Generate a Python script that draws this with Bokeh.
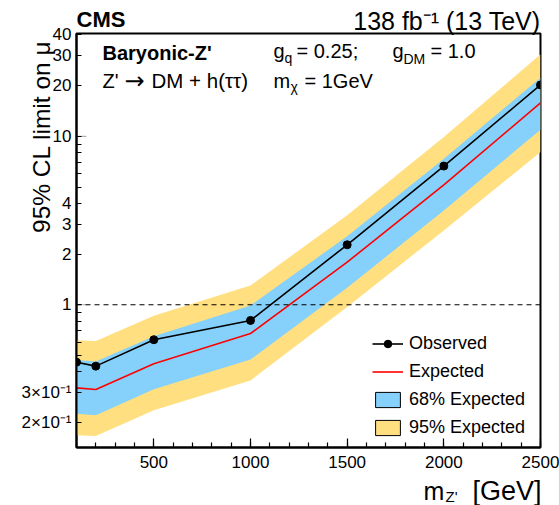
import math
from bokeh.plotting import figure
from bokeh.layouts import column, row
from bokeh.models import (Range1d, FixedTicker, Span, Label, Legend, LegendItem,
                          BoxAnnotation)
from bokeh.embed import file_html
from bokeh.resources import INLINE

# ---- data ----
mass = [100, 200, 500, 1000, 1500, 2000, 2500]
observed = [0.456, 0.432, 0.62, 0.807, 2.27, 6.66, 20.2]
expected = [0.321, 0.314, 0.446, 0.675, 1.79, 5.15, 15.8]
exp_68_low = [0.225, 0.221, 0.315, 0.473, 1.26, 3.63, 10.95]
exp_68_high = [0.47, 0.46, 0.65, 0.99, 2.55, 7.37, 22.3]
exp_95_low = [0.168, 0.166, 0.236, 0.355, 0.97, 2.76, 8.07]
exp_95_high = [0.615, 0.61, 0.86, 1.30, 3.40, 9.9, 30.7]

x_ticks = [500, 1000, 1500, 2000, 2500]
x_minor = list(range(100, 2600, 100))
y_ticks = [0.2, 0.3, 1, 2, 3, 4, 10, 20, 30, 40]
y_tick_labels = ["2×10⁻¹", "3×10⁻¹", "1", "2", "3", "4", "10", "20", "30", "40"]
y_minor = [0.4, 0.5, 0.6, 0.7, 0.8, 0.9, 5, 6, 7, 8, 9]

FONT = "Liberation Sans"
W, H = 559, 505
FL, FR, FT, FB = 76, 540, 33, 447  # frame edges in canvas px
SHIFT = 7  # compensation for the overlay's vertical offset
HO = H + 30  # overlay height (extends past the window bottom)

p = figure(width=W, height=H, y_axis_type="log",
           x_range=Range1d(100, 2500), y_range=Range1d(0.142, 40.8),
           output_backend="svg", toolbar_location=None,
           min_border_left=FL, min_border_right=W - FR,
           min_border_top=FT, min_border_bottom=H - FB)
p.xgrid.visible = False
p.ygrid.visible = False
p.outline_line_color = "black"
p.outline_line_width = 2
p.background_fill_color = "white"
p.border_fill_color = "white"

yellow = "#FFDF7F"
blue = "#85D1FB"

# legend swatches (zero-size, hidden beneath the bands)
r_95 = p.quad(left=mass[:1], right=mass[:1], top=expected[:1], bottom=expected[:1],
              fill_color=yellow, line_color="black", line_width=1)
r_68 = p.quad(left=mass[:1], right=mass[:1], top=expected[:1], bottom=expected[:1],
              fill_color=blue, line_color="black", line_width=1)

# bands
p.varea(x=mass, y1=exp_95_low, y2=exp_95_high, fill_color=yellow)
p.varea(x=mass, y1=exp_68_low, y2=exp_68_high, fill_color=blue)

p.add_layout(Span(location=1, dimension="width", line_color="black",
                  line_width=1.2, line_dash="5 4"))

r_exp = p.line(mass, expected, line_color="red", line_width=1.6)
r_obs = p.line(mass, observed, line_color="black", line_width=1.6)
r_obs_pts = p.scatter(mass, observed, size=8, fill_color="black", line_color="black")

legend = Legend(items=[
    LegendItem(label="Observed", renderers=[r_obs, r_obs_pts]),
    LegendItem(label="Expected", renderers=[r_exp]),
    LegendItem(label="68% Expected", renderers=[r_68]),
    LegendItem(label="95% Expected", renderers=[r_95]),
], location=(296, 9), padding=0, margin=0, spacing=7,
    glyph_width=31, glyph_height=19, label_height=19, label_standoff=6,
    label_text_font_size="18px", label_text_font=FONT, label_text_color="black",
    background_fill_alpha=0, border_line_alpha=0)
p.add_layout(legend)

# axes
xa = p.xaxis[0]
xa.ticker = FixedTicker(ticks=x_ticks, minor_ticks=x_minor)
xa.major_tick_in = 9
xa.major_tick_out = 0
xa.minor_tick_in = 5
xa.minor_tick_out = 0
xa.axis_line_width = 2
xa.major_tick_line_width = 1.2
xa.minor_tick_line_width = 1.2
xa.major_label_text_font = FONT
xa.major_label_text_font_size = "17px"
xa.major_label_text_color = "black"
xa.major_label_standoff = 8

ya = p.yaxis[0]
ya.ticker = FixedTicker(ticks=y_ticks, minor_ticks=y_minor)
ya.major_label_overrides = {t: s for t, s in zip(y_ticks, y_tick_labels)}
ya.major_tick_in = 5
ya.major_tick_out = 0
ya.minor_tick_in = 5
ya.minor_tick_out = 0
ya.axis_line_width = 2
ya.major_tick_line_width = 1.2
ya.minor_tick_line_width = 1.2
ya.major_label_text_font = FONT
ya.major_label_text_font_size = "17px"
ya.major_label_text_color = "black"
ya.major_label_standoff = 5

# longer ticks at decades (1 and 10)
for dec in (1, 10):
    p.add_layout(BoxAnnotation(left=0, right=10, left_units="screen", right_units="screen",
                               top=dec, bottom=dec, fill_alpha=0,
                               line_color="black", line_width=1.2))

# transparent overlay figure for texts (covers the whole canvas, no clipping at frame)
ov = figure(width=W, height=HO, x_range=Range1d(0, W), y_range=Range1d(0, HO),
            x_axis_type=None, y_axis_type=None, min_border=0,
            toolbar_location=None, output_backend="svg",
            outline_line_color=None)
ov.background_fill_alpha = 0
ov.border_fill_alpha = 0


def lab(text, px, py, size, bold=False, align="left", angle=0.0, font=FONT):
    ov.add_layout(Label(x=px, y=HO - py, text=text, text_font=font,
                        text_font_size=f"{size}px",
                        text_font_style="bold" if bold else "normal",
                        text_align=align, text_baseline="alphabetic",
                        text_color="black", angle=angle))


lab("CMS", 76, 26, 22, bold=True)
lab("138 fb⁻¹ (13 TeV)", 540, 27, 25, align="right")
lab("Baryonic-Z'", 102, 59, 20, bold=True)
lab("Z'", 102, 87, 20)
lab("→", 124, 87, 24, font="DejaVu Sans")
lab("DM + h(ττ)", 151, 87, 20.5)
lab("g", 273, 57, 20)
lab("q", 284, 64, 14)
lab("= 0.25;", 296, 57, 20)
lab("g", 392, 57, 20)
lab("DM", 403, 65, 14)
lab("= 1.0", 430, 57, 20)
lab("m", 273, 87, 20)
lab("χ", 290, 93, 14)
lab("= 1GeV", 304, 87, 20)
lab("[GeV]", 541, 497, 27, align="right")
lab("Z'", 445, 503, 15)
lab("m", 423, 497, 25)
lab("95% CL limit on μ", 41, 47, 24.5, align="right", angle=math.pi / 2)

layout = column(row(p), row(ov, margin=(-(H + SHIFT), 0, 0, 0)), spacing=0)
open("out.html", "w").write(file_html(layout, INLINE))
